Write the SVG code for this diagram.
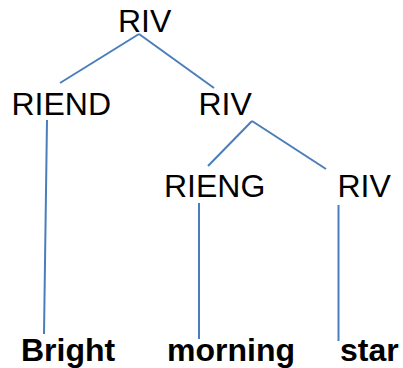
<svg xmlns="http://www.w3.org/2000/svg" width="403" height="368" viewBox="0 0 403 368">
<style>
.n{font-family:"Liberation Sans",Arial,sans-serif;font-size:32px;fill:#000}
.w{font-family:"Liberation Sans",Arial,sans-serif;font-size:32px;font-weight:bold;fill:#000}
.c line{stroke:#4a7ebb;stroke-width:2;fill:none}
</style>
<rect width="403" height="368" fill="#fff"/>
<g class="c" id="connectors">
<line x1="139" y1="34" x2="60" y2="83"/>
<line x1="139" y1="34" x2="214" y2="88"/>
<line x1="47" y1="120" x2="44" y2="334"/>
<line x1="252" y1="121" x2="208" y2="166"/>
<line x1="252" y1="121" x2="326" y2="169"/>
<line x1="199" y1="203" x2="199" y2="339"/>
<line x1="338.5" y1="205" x2="338.5" y2="341"/>
</g>
<g id="riv-root"><text class="n" x="118" y="32">RIV</text></g>
<g id="riend"><text class="n" x="11.5" y="115">RIEND</text></g>
<g id="riv-2"><text class="n" x="198.5" y="115">RIV</text></g>
<g id="rieng"><text class="n" x="164" y="197">RIENG</text></g>
<g id="riv-3"><text class="n" x="337.5" y="197">RIV</text></g>
<g id="bright"><text class="w" x="21" y="361">Bright</text></g>
<g id="morning"><text class="w" x="167" y="361">morning</text></g>
<g id="star"><text class="w" x="340" y="361">star</text></g>
</svg>
